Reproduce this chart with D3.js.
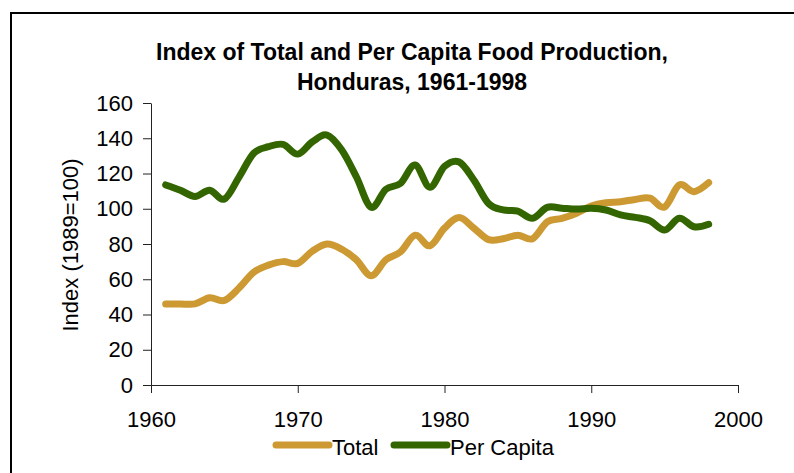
<!DOCTYPE html>
<html>
<head>
<meta charset="utf-8">
<script src="https://cdn.jsdelivr.net/npm/d3@7"></script>
<style>
  body { margin: 0; background: #fff; }
  text { font-family: "Liberation Sans", Arial, sans-serif; fill: #000; }
</style>
</head>
<body>
<svg id="chart" width="794" height="473"></svg>
<script>
// years 1961-1998
const years = d3.range(1961, 1999);
const totalValues = [46, 46, 46, 49.5, 48, 55, 64, 68, 70, 69, 76, 80, 77, 71, 62, 71, 75.5, 85, 79, 89,
    95, 89, 82.5, 83, 85, 83, 92.5, 94.5, 97.5, 101.5, 103.4, 104, 105.3, 106, 101, 113.5, 109.7, 114.8];
const perCapitaValues = [113.5, 110.5, 107, 110.5, 105.5, 118, 131.5, 135.2, 136.5, 131, 138, 141.8, 133.3, 118, 100.8, 111, 114.4, 124.8, 112.2, 124,
    126.5, 116.3, 103, 99.3, 98.7, 94.6, 100.8, 100.3, 99.8, 100.3, 99.3, 96.5, 95.1, 93.2, 87.9, 94.6, 89.8, 91.2];
const yTicks = [0, 20, 40, 60, 80, 100, 120, 140, 160];
const xTicks = [1960, 1970, 1980, 1990, 2000];
const seriesNames = ["Total", "Per Capita"];
const seriesColors = ["#CC9933", "#336600"];

const margin = { top: 103, right: 56, bottom: 88, left: 151 };
const width = 794 - margin.left - margin.right,
      height = 473 - margin.top - margin.bottom;

const svg = d3.select("#chart");

// outer frame (only top and left edges are inside the picture)
svg.append("rect")
    .attr("x", 11).attr("y", 13)
    .attr("width", 800).attr("height", 480)
    .attr("fill", "none")
    .attr("stroke", "#000")
    .attr("stroke-width", 2);

const chart = svg.append("g")
    .attr("transform", `translate(${margin.left},${margin.top})`);

let x = d3.scaleLinear().domain([1960, 2000]).range([0, width]);
let y = d3.scaleLinear().domain([0, 160]).range([height, 0]);

chart.append("g")
    .attr("transform", `translate(0,${height})`)
    .call(d3.axisBottom(x).tickValues(xTicks).tickFormat(d3.format("d"))
        .tickSize(8).tickSizeOuter(0).tickPadding(18))
    .call(g => g.selectAll("text").attr("font-size", "22px"))
    .call(g => g.selectAll("line, path").attr("stroke", "#222"))
    .attr("font-family", null);

chart.append("g")
    .call(d3.axisLeft(y).tickValues(yTicks).tickSize(8).tickSizeOuter(0).tickPadding(10))
    .call(g => g.selectAll("text").attr("font-size", "22px"))
    .call(g => g.selectAll("line, path").attr("stroke", "#222"))
    .attr("font-family", null);

let line = d3.line()
    .x(d => x(d.year))
    .y(d => y(d.value))
    .curve(d3.curveCatmullRom.alpha(0));

const series = [totalValues, perCapitaValues].map((vals, i) => ({
    name: seriesNames[i],
    values: vals.map((v, j) => ({ year: years[j], value: v }))
}));

chart.selectAll(".series")
    .data(series)
    .join("path")
    .attr("class", "series")
    .attr("d", d => line(d.values))
    .attr("fill", "none")
    .attr("stroke", (d, i) => seriesColors[i])
    .attr("stroke-width", 7)
    .attr("stroke-linecap", "round")
    .attr("stroke-linejoin", "round");

// Labels
svg.append("text")
    .attr("x", 412).attr("y", 59.5)
    .attr("text-anchor", "middle")
    .attr("font-size", "23px")
    .attr("font-weight", "bold")
    .text("Index of Total and Per Capita Food Production,");
svg.append("text")
    .attr("x", 412).attr("y", 90)
    .attr("text-anchor", "middle")
    .attr("font-size", "23px")
    .attr("font-weight", "bold")
    .text("Honduras, 1961-1998");

svg.append("text")
    .attr("transform", "translate(78,245) rotate(-90)")
    .attr("text-anchor", "middle")
    .attr("font-size", "22px")
    .text("Index (1989=100)");

// legend
const legendItems = [
    { name: seriesNames[0], color: seriesColors[0], x: 276, w: 53 },
    { name: seriesNames[1], color: seriesColors[1], x: 394, w: 53 }
];
const legend = svg.append("g");
legendItems.forEach(it => {
    legend.append("line")
        .attr("x1", it.x).attr("x2", it.x + it.w)
        .attr("y1", 445).attr("y2", 445)
        .attr("stroke", it.color)
        .attr("stroke-width", 7)
        .attr("stroke-linecap", "round");
    legend.append("text")
        .attr("x", it.x + it.w + 3).attr("y", 455)
        .attr("font-size", "22px")
        .text(it.name);
});
</script>
</body>
</html>
